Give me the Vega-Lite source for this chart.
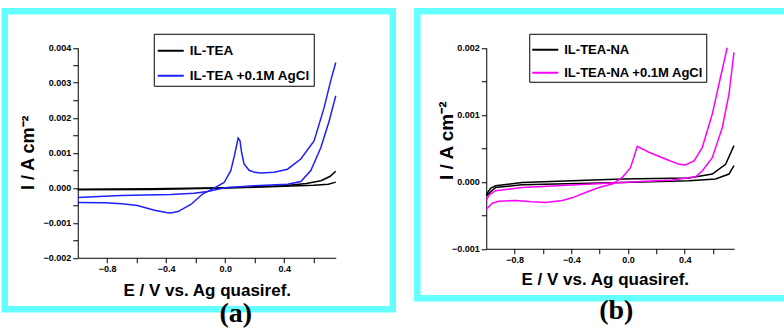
{
  "$schema": "https://vega.github.io/schema/vega-lite/v6.json",
  "padding": {"left": 0.75, "top": 7.25, "right": 0, "bottom": 0},
  "background": "white",
  "spacing": 16.5,
  "datasets": {
    "a": [
      {"E": -1.0, "I": -0.00004, "series": "IL-TEA", "branch": "k1"},
      {"E": -0.5, "I": -0.00003, "series": "IL-TEA", "branch": "k1"},
      {"E": 0.0, "I": 0.0, "series": "IL-TEA", "branch": "k1"},
      {"E": 0.4, "I": 0.00006, "series": "IL-TEA", "branch": "k1"},
      {"E": 0.55, "I": 0.00012, "series": "IL-TEA", "branch": "k1"},
      {"E": 0.65, "I": 0.0002, "series": "IL-TEA", "branch": "k1"},
      {"E": 0.71, "I": 0.00032, "series": "IL-TEA", "branch": "k1"},
      {"E": 0.75, "I": 0.00047, "series": "IL-TEA", "branch": "k1"},
      {"E": -1.0, "I": -0.00006, "series": "IL-TEA", "branch": "k2"},
      {"E": -0.5, "I": -0.00005, "series": "IL-TEA", "branch": "k2"},
      {"E": 0.0, "I": -0.00001, "series": "IL-TEA", "branch": "k2"},
      {"E": 0.4, "I": 0.00004, "series": "IL-TEA", "branch": "k2"},
      {"E": 0.6, "I": 0.00007, "series": "IL-TEA", "branch": "k2"},
      {"E": 0.7, "I": 0.0001, "series": "IL-TEA", "branch": "k2"},
      {"E": 0.75, "I": 0.00016, "series": "IL-TEA", "branch": "k2"},
      {"E": -1.0, "I": -0.00042, "series": "IL-TEA +0.1M AgCl", "branch": "b1"},
      {"E": -0.82, "I": -0.00043, "series": "IL-TEA +0.1M AgCl", "branch": "b1"},
      {"E": -0.7, "I": -0.00046, "series": "IL-TEA +0.1M AgCl", "branch": "b1"},
      {"E": -0.595, "I": -0.00051, "series": "IL-TEA +0.1M AgCl", "branch": "b1"},
      {"E": -0.48, "I": -0.00064, "series": "IL-TEA +0.1M AgCl", "branch": "b1"},
      {"E": -0.4, "I": -0.00071, "series": "IL-TEA +0.1M AgCl", "branch": "b1"},
      {"E": -0.37, "I": -0.00072, "series": "IL-TEA +0.1M AgCl", "branch": "b1"},
      {"E": -0.32, "I": -0.00068, "series": "IL-TEA +0.1M AgCl", "branch": "b1"},
      {"E": -0.23, "I": -0.00047, "series": "IL-TEA +0.1M AgCl", "branch": "b1"},
      {"E": -0.154, "I": -0.00018, "series": "IL-TEA +0.1M AgCl", "branch": "b1"},
      {"E": -0.075, "I": -0.00001, "series": "IL-TEA +0.1M AgCl", "branch": "b1"},
      {"E": -0.007, "I": 0.00015, "series": "IL-TEA +0.1M AgCl", "branch": "b1"},
      {"E": 0.038, "I": 0.00049, "series": "IL-TEA +0.1M AgCl", "branch": "b1"},
      {"E": 0.065, "I": 0.00096, "series": "IL-TEA +0.1M AgCl", "branch": "b1"},
      {"E": 0.088, "I": 0.00142, "series": "IL-TEA +0.1M AgCl", "branch": "b1"},
      {"E": 0.1, "I": 0.00135, "series": "IL-TEA +0.1M AgCl", "branch": "b1"},
      {"E": 0.112, "I": 0.001, "series": "IL-TEA +0.1M AgCl", "branch": "b1"},
      {"E": 0.128, "I": 0.00068, "series": "IL-TEA +0.1M AgCl", "branch": "b1"},
      {"E": 0.162, "I": 0.0005, "series": "IL-TEA +0.1M AgCl", "branch": "b1"},
      {"E": 0.2, "I": 0.00044, "series": "IL-TEA +0.1M AgCl", "branch": "b1"},
      {"E": 0.242, "I": 0.00042, "series": "IL-TEA +0.1M AgCl", "branch": "b1"},
      {"E": 0.332, "I": 0.00044, "series": "IL-TEA +0.1M AgCl", "branch": "b1"},
      {"E": 0.423, "I": 0.00053, "series": "IL-TEA +0.1M AgCl", "branch": "b1"},
      {"E": 0.513, "I": 0.00082, "series": "IL-TEA +0.1M AgCl", "branch": "b1"},
      {"E": 0.603, "I": 0.00134, "series": "IL-TEA +0.1M AgCl", "branch": "b1"},
      {"E": 0.671, "I": 0.00229, "series": "IL-TEA +0.1M AgCl", "branch": "b1"},
      {"E": 0.716, "I": 0.00306, "series": "IL-TEA +0.1M AgCl", "branch": "b1"},
      {"E": 0.75, "I": 0.00358, "series": "IL-TEA +0.1M AgCl", "branch": "b1"},
      {"E": -1.0, "I": -0.00028, "series": "IL-TEA +0.1M AgCl", "branch": "b2"},
      {"E": -0.708, "I": -0.00022, "series": "IL-TEA +0.1M AgCl", "branch": "b2"},
      {"E": -0.369, "I": -0.00019, "series": "IL-TEA +0.1M AgCl", "branch": "b2"},
      {"E": -0.211, "I": -0.00016, "series": "IL-TEA +0.1M AgCl", "branch": "b2"},
      {"E": -0.12, "I": -0.00011, "series": "IL-TEA +0.1M AgCl", "branch": "b2"},
      {"E": -0.05, "I": -0.00004, "series": "IL-TEA +0.1M AgCl", "branch": "b2"},
      {"E": 0.0, "I": 0.0, "series": "IL-TEA +0.1M AgCl", "branch": "b2"},
      {"E": 0.196, "I": 0.00006, "series": "IL-TEA +0.1M AgCl", "branch": "b2"},
      {"E": 0.423, "I": 0.0001, "series": "IL-TEA +0.1M AgCl", "branch": "b2"},
      {"E": 0.513, "I": 0.00018, "series": "IL-TEA +0.1M AgCl", "branch": "b2"},
      {"E": 0.581, "I": 0.00049, "series": "IL-TEA +0.1M AgCl", "branch": "b2"},
      {"E": 0.649, "I": 0.00115, "series": "IL-TEA +0.1M AgCl", "branch": "b2"},
      {"E": 0.705, "I": 0.0019, "series": "IL-TEA +0.1M AgCl", "branch": "b2"},
      {"E": 0.75, "I": 0.00263, "series": "IL-TEA +0.1M AgCl", "branch": "b2"}
    ],
    "b": [
      {"E": -1.0, "I": -0.00019, "series": "IL-TEA-NA", "branch": "k1"},
      {"E": -0.97, "I": -0.0001, "series": "IL-TEA-NA", "branch": "k1"},
      {"E": -0.934, "I": -0.00006, "series": "IL-TEA-NA", "branch": "k1"},
      {"E": -0.746, "I": -0.00001, "series": "IL-TEA-NA", "branch": "k1"},
      {"E": -0.04, "I": 0.00004, "series": "IL-TEA-NA", "branch": "k1"},
      {"E": 0.43, "I": 0.000055, "series": "IL-TEA-NA", "branch": "k1"},
      {"E": 0.595, "I": 0.000115, "series": "IL-TEA-NA", "branch": "k1"},
      {"E": 0.689, "I": 0.00026, "series": "IL-TEA-NA", "branch": "k1"},
      {"E": 0.748, "I": 0.00054, "series": "IL-TEA-NA", "branch": "k1"},
      {"E": -1.0, "I": -0.00021, "series": "IL-TEA-NA", "branch": "k2"},
      {"E": -0.934, "I": -0.000085, "series": "IL-TEA-NA", "branch": "k2"},
      {"E": -0.746, "I": -0.000045, "series": "IL-TEA-NA", "branch": "k2"},
      {"E": -0.04, "I": -0.00001, "series": "IL-TEA-NA", "branch": "k2"},
      {"E": 0.43, "I": 0.000015, "series": "IL-TEA-NA", "branch": "k2"},
      {"E": 0.618, "I": 0.00004, "series": "IL-TEA-NA", "branch": "k2"},
      {"E": 0.713, "I": 0.000115, "series": "IL-TEA-NA", "branch": "k2"},
      {"E": 0.748, "I": 0.00024, "series": "IL-TEA-NA", "branch": "k2"},
      {"E": -1.0, "I": -0.00041, "series": "IL-TEA-NA +0.1M AgCl", "branch": "m1"},
      {"E": -0.958, "I": -0.00032, "series": "IL-TEA-NA +0.1M AgCl", "branch": "m1"},
      {"E": -0.91, "I": -0.00029, "series": "IL-TEA-NA +0.1M AgCl", "branch": "m1"},
      {"E": -0.793, "I": -0.00028, "series": "IL-TEA-NA +0.1M AgCl", "branch": "m1"},
      {"E": -0.68, "I": -0.0003, "series": "IL-TEA-NA +0.1M AgCl", "branch": "m1"},
      {"E": -0.58, "I": -0.00031, "series": "IL-TEA-NA +0.1M AgCl", "branch": "m1"},
      {"E": -0.464, "I": -0.00028, "series": "IL-TEA-NA +0.1M AgCl", "branch": "m1"},
      {"E": -0.393, "I": -0.00024, "series": "IL-TEA-NA +0.1M AgCl", "branch": "m1"},
      {"E": -0.299, "I": -0.00016, "series": "IL-TEA-NA +0.1M AgCl", "branch": "m1"},
      {"E": -0.205, "I": -0.000085, "series": "IL-TEA-NA +0.1M AgCl", "branch": "m1"},
      {"E": -0.111, "I": -0.000035, "series": "IL-TEA-NA +0.1M AgCl", "branch": "m1"},
      {"E": -0.04, "I": 0.000064, "series": "IL-TEA-NA +0.1M AgCl", "branch": "m1"},
      {"E": 0.018, "I": 0.00021, "series": "IL-TEA-NA +0.1M AgCl", "branch": "m1"},
      {"E": 0.066, "I": 0.00053, "series": "IL-TEA-NA +0.1M AgCl", "branch": "m1"},
      {"E": 0.148, "I": 0.00044, "series": "IL-TEA-NA +0.1M AgCl", "branch": "m1"},
      {"E": 0.265, "I": 0.00034, "series": "IL-TEA-NA +0.1M AgCl", "branch": "m1"},
      {"E": 0.36, "I": 0.00026, "series": "IL-TEA-NA +0.1M AgCl", "branch": "m1"},
      {"E": 0.406, "I": 0.00025, "series": "IL-TEA-NA +0.1M AgCl", "branch": "m1"},
      {"E": 0.466, "I": 0.00031, "series": "IL-TEA-NA +0.1M AgCl", "branch": "m1"},
      {"E": 0.524, "I": 0.00051, "series": "IL-TEA-NA +0.1M AgCl", "branch": "m1"},
      {"E": 0.595, "I": 0.00101, "series": "IL-TEA-NA +0.1M AgCl", "branch": "m1"},
      {"E": 0.653, "I": 0.00156, "series": "IL-TEA-NA +0.1M AgCl", "branch": "m1"},
      {"E": 0.7, "I": 0.002, "series": "IL-TEA-NA +0.1M AgCl", "branch": "m1"},
      {"E": -1.0, "I": -0.00028, "series": "IL-TEA-NA +0.1M AgCl", "branch": "m2"},
      {"E": -0.98, "I": -0.0002, "series": "IL-TEA-NA +0.1M AgCl", "branch": "m2"},
      {"E": -0.934, "I": -0.000134, "series": "IL-TEA-NA +0.1M AgCl", "branch": "m2"},
      {"E": -0.746, "I": -0.000085, "series": "IL-TEA-NA +0.1M AgCl", "branch": "m2"},
      {"E": -0.393, "I": -0.00005, "series": "IL-TEA-NA +0.1M AgCl", "branch": "m2"},
      {"E": -0.04, "I": -0.00001, "series": "IL-TEA-NA +0.1M AgCl", "branch": "m2"},
      {"E": 0.313, "I": 0.000025, "series": "IL-TEA-NA +0.1M AgCl", "branch": "m2"},
      {"E": 0.477, "I": 0.000075, "series": "IL-TEA-NA +0.1M AgCl", "branch": "m2"},
      {"E": 0.524, "I": 0.00016, "series": "IL-TEA-NA +0.1M AgCl", "branch": "m2"},
      {"E": 0.595, "I": 0.00036, "series": "IL-TEA-NA +0.1M AgCl", "branch": "m2"},
      {"E": 0.666, "I": 0.00081, "series": "IL-TEA-NA +0.1M AgCl", "branch": "m2"},
      {"E": 0.713, "I": 0.00131, "series": "IL-TEA-NA +0.1M AgCl", "branch": "m2"},
      {"E": 0.748, "I": 0.00193, "series": "IL-TEA-NA +0.1M AgCl", "branch": "m2"}
    ]
  },
  "hconcat": [
    {
      "width": 388,
      "height": 298,
      "view": {"stroke": "#66ffff", "strokeWidth": 6.5, "fill": "white"},
      "title": {"text": "(a)", "orient": "bottom", "anchor": "middle", "dx": 37, "offset": -9, "font": "Liberation Serif", "fontSize": 28, "fontWeight": "bold", "color": "black"},
      "data": {"name": "a"},
      "mark": {"type": "line", "strokeWidth": 1.5, "clip": true},
      "encoding": {
        "x": {
          "field": "E", "type": "quantitative",
          "scale": {"domain": [-1, 0.75], "range": [73, 331], "nice": false, "zero": false},
          "axis": {
            "orient": "bottom", "offset": -51.5,
            "values": [-0.8, -0.6, -0.4, -0.2, 0, 0.2, 0.4, 0.6],
            "labelExpr": "round(datum.value*10) % 4 == 0 ? format(datum.value, '.1f') : ''",
            "title": "E / V vs. Ag quasiref.",
            "titleX": 202, "titleY": 38, "titleBaseline": "alphabetic", "titleAlign": "center", "titleFontSize": 17
          }
        },
        "y": {
          "field": "I", "type": "quantitative",
          "scale": {"domain": [-0.002, 0.004], "range": [246.5, 36.5], "nice": false, "zero": false},
          "axis": {
            "orient": "left", "offset": -73,
            "values": [-0.002, -0.0015, -0.001, -0.0005, 0, 0.0005, 0.001, 0.0015, 0.002, 0.0025, 0.003, 0.0035, 0.004],
            "labelExpr": "round(datum.value*2000) % 2 == 0 ? format(datum.value, '.3f') : ''",
            "title": "I / A cm⁻²",
            "titleX": -44, "titleY": 141, "titleAngle": -90, "titleBaseline": "alphabetic", "titleAlign": "center", "titleFontSize": 18
          }
        },
        "color": {
          "field": "series", "type": "nominal",
          "scale": {"domain": ["IL-TEA", "IL-TEA +0.1M AgCl"], "range": ["#000000", "#1e1eff"]},
          "legend": {"orient": "none", "legendX": 149, "legendY": 22.5, "labelFontSize": 13.5, "padding": 3, "rowPadding": 4}
        },
        "detail": {"field": "branch"}
      }
    },
    {
      "width": 375,
      "height": 287,
      "view": {"stroke": "#66ffff", "strokeWidth": 6.5, "fill": "white"},
      "title": {"text": "(b)", "orient": "bottom", "anchor": "middle", "dx": 11.5, "offset": -1, "font": "Liberation Serif", "fontSize": 28, "fontWeight": "bold", "color": "black"},
      "data": {"name": "b"},
      "mark": {"type": "line", "strokeWidth": 1.5, "clip": true},
      "encoding": {
        "x": {
          "field": "E", "type": "quantitative",
          "scale": {"domain": [-1, 0.75], "range": [69, 317], "nice": false, "zero": false},
          "axis": {
            "orient": "bottom", "offset": -49.5,
            "values": [-0.8, -0.6, -0.4, -0.2, 0, 0.2, 0.4, 0.6],
            "labelExpr": "round(datum.value*10) % 4 == 0 ? format(datum.value, '.1f') : ''",
            "title": "E / V vs. Ag quasiref.",
            "titleX": 187.5, "titleY": 36, "titleBaseline": "alphabetic", "titleAlign": "center", "titleFontSize": 17
          }
        },
        "y": {
          "field": "I", "type": "quantitative",
          "scale": {"domain": [-0.001, 0.002], "range": [237.5, 36.5], "nice": false, "zero": false},
          "axis": {
            "orient": "left", "offset": -69,
            "values": [-0.001, -0.0005, 0, 0.0005, 0.001, 0.0015, 0.002],
            "labelExpr": "round(datum.value*2000) % 2 == 0 ? format(datum.value, '.3f') : ''",
            "title": "I / A cm⁻²",
            "titleX": -34, "titleY": 129, "titleAngle": -90, "titleBaseline": "alphabetic", "titleAlign": "center", "titleFontSize": 19
          }
        },
        "color": {
          "field": "series", "type": "nominal",
          "scale": {"domain": ["IL-TEA-NA", "IL-TEA-NA +0.1M AgCl"], "range": ["#000000", "#ff00ff"]},
          "legend": {"orient": "none", "legendX": 112, "legendY": 22.5, "labelFontSize": 13, "padding": 2, "rowPadding": 2}
        },
        "detail": {"field": "branch"}
      }
    }
  ],
  "resolve": {"scale": {"color": "independent", "x": "independent", "y": "independent"}, "legend": {"color": "independent"}},
  "config": {
    "axis": {
      "grid": false, "labelFont": "Liberation Sans", "labelFontWeight": "bold", "labelFontSize": 9, "labelColor": "black",
      "titleFont": "Liberation Sans", "titleFontWeight": "bold", "titleColor": "black",
      "domainColor": "black", "tickColor": "black", "tickSize": 5, "labelPadding": 2
    },
    "legend": {
      "title": null, "strokeColor": "black", "fillColor": "white", "symbolType": "stroke", "symbolSize": 676, "symbolStrokeWidth": 2,
      "labelFont": "Liberation Sans", "labelFontWeight": "bold", "labelColor": "black", "labelOffset": 5
    }
  }
}
